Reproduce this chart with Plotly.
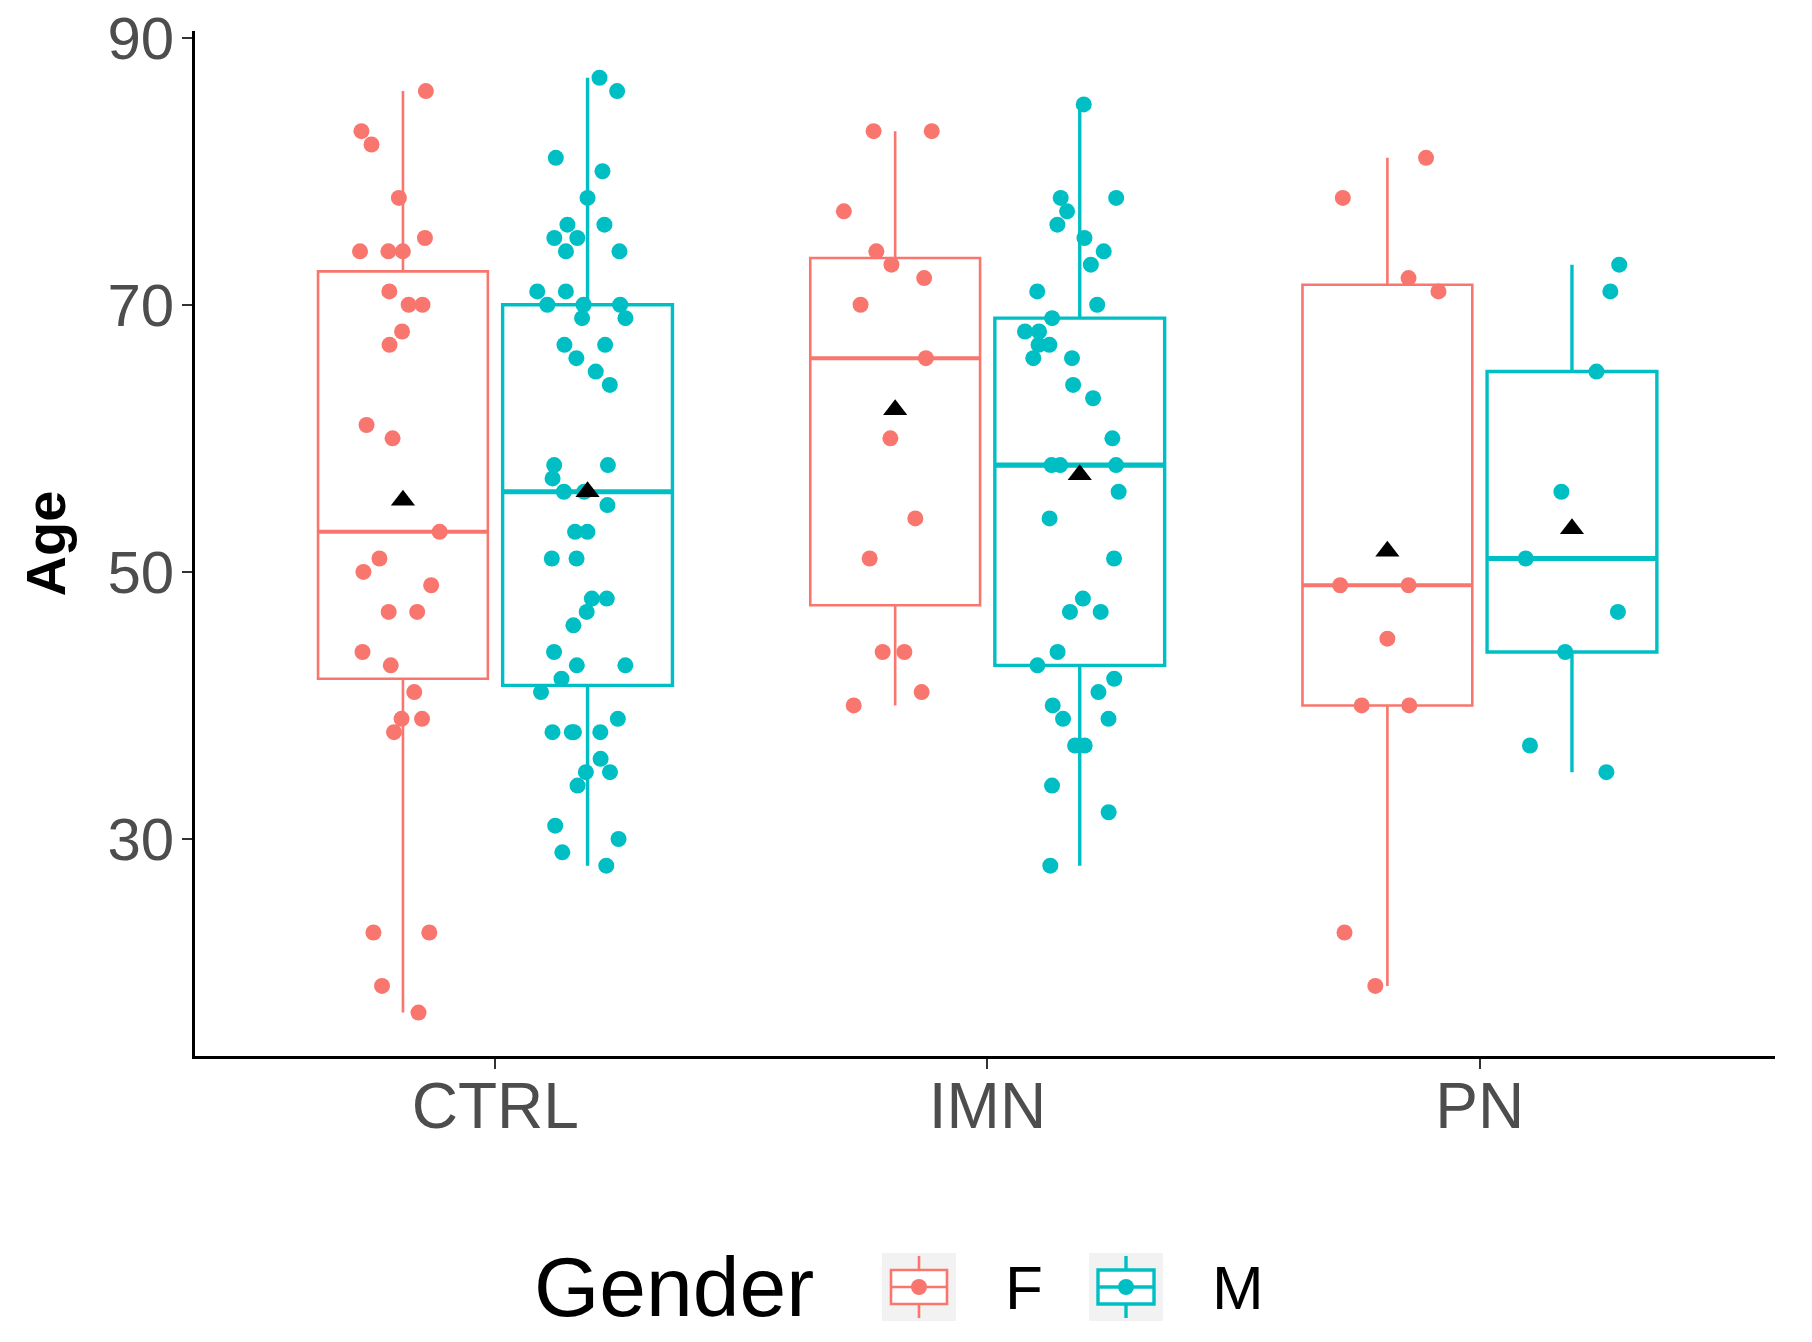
import numpy as np
import plotly.graph_objects as go

# ---- data (ages) ----
groups = ["CTRL", "IMN", "PN"]
genders = ["F", "M"]

ctrl_f = [86, 83, 82, 78, 75, 74, 74, 74, 71, 70, 70, 68, 67, 61, 60, 53, 51, 50,
          49, 47, 47, 44, 43, 41, 39, 39, 38, 23, 23, 19, 17]
ctrl_m = [87, 86, 81, 80, 78, 76, 76, 75, 75, 74, 74, 71, 71, 70, 70, 70, 69, 69,
          67, 67, 66, 65, 64, 58, 58, 57, 56, 56, 55, 53, 53, 51, 51, 48, 48, 47,
          46, 44, 43, 43, 42, 41, 39, 38, 38, 38, 38, 36, 35, 35, 34, 31, 30, 29, 28]
imn_f = [83, 83, 77, 74, 73, 72, 70, 66, 60, 54, 51, 44, 44, 41, 40]
imn_m = [85, 78, 78, 77, 76, 75, 74, 73, 71, 70, 69, 68, 68, 67, 67, 66, 66, 64,
         63, 60, 58, 58, 58, 56, 54, 51, 48, 47, 47, 44, 43, 42, 41, 40, 39, 39,
         37, 37, 34, 32, 28]
pn_f = [81, 78, 72, 71, 49, 49, 45, 40, 40, 23, 19]
pn_m = [73, 71, 65, 56, 51, 47, 44, 37, 35]

age = {
    ("CTRL", "F"): ctrl_f, ("CTRL", "M"): ctrl_m,
    ("IMN", "F"): imn_f, ("IMN", "M"): imn_m,
    ("PN", "F"): pn_f, ("PN", "M"): pn_m,
}

colors = {"F": "#F8766D", "M": "#00BFC4"}
box_line_w = {"F": 2.6, "M": 3.4}
median_w = {"F": 4.0, "M": 5.2}
FONT = "Liberation Sans, Arial, sans-serif"

# figure geometry (px); page body margin is removed by a post-script
FIG_W, FIG_H = 1812, 1342
M_L, M_R, M_T, M_B = 195, 37, 31, 286
PW = FIG_W - M_L - M_R
PH = FIG_H - M_T - M_B


def stats(values):
    a = np.asarray(values, dtype=float)
    q1, med, q3 = np.percentile(a, [25, 50, 75])
    iqr = q3 - q1
    lo = a[a >= q1 - 1.5 * iqr].min()
    hi = a[a <= q3 + 1.5 * iqr].max()
    return q1, med, q3, lo, hi, a.mean()


fig = go.Figure()

for g in genders:
    st = [stats(age[(grp, g)]) for grp in groups]
    fig.add_trace(go.Box(
        x=groups,
        q1=[s[0] for s in st], median=[s[1] for s in st], q3=[s[2] for s in st],
        lowerfence=[s[3] for s in st], upperfence=[s[4] for s in st],
        name=g, legendgroup=g, offsetgroup=g, alignmentgroup="a",
        line=dict(color=colors[g], width=box_line_w[g]),
        fillcolor="rgba(255,255,255,0)", whiskerwidth=0, boxpoints=False,
        showlegend=False,
    ))
    # thicker median bar (ggplot "fatten")
    meds = [s[1] for s in st]
    fig.add_trace(go.Box(
        x=groups, q1=meds, median=meds, q3=meds, lowerfence=meds, upperfence=meds,
        name=g, legendgroup=g, offsetgroup=g, alignmentgroup="a",
        line=dict(color=colors[g], width=median_w[g]),
        fillcolor="rgba(255,255,255,0)", whiskerwidth=0, boxpoints=False,
        showlegend=False, hoverinfo="skip",
    ))

for g in genders:
    xs, ys = [], []
    for grp in groups:
        xs += [grp] * len(age[(grp, g)])
        ys += age[(grp, g)]
    fig.add_trace(go.Box(
        x=xs, y=ys, name=g, legendgroup=g, offsetgroup=g, alignmentgroup="a",
        boxpoints="all", jitter=0.65, pointpos=0, whiskerwidth=0,
        line=dict(color="rgba(0,0,0,0)", width=0),
        fillcolor="rgba(0,0,0,0)",
        marker=dict(color=colors[g], size=16, line=dict(width=0)),
        showlegend=False,
    ))

for g in genders:
    means = [float(np.mean(age[(grp, g)])) for grp in groups]
    fig.add_trace(go.Scatter(
        x=groups, y=means, mode="markers", offsetgroup=g, alignmentgroup="a",
        marker=dict(symbol="triangle-up", size=21, color="black"),
        showlegend=False, legendgroup=g, name=g,
    ))


# ---- ggplot-style legend drawn at the bottom (figure px -> paper) ----
def pxx(px):
    return (px - M_L) / PW


def pxy(py):
    return (M_T + PH - py) / PH


shapes, annotations = [], []
LEG_CY = 1287
annotations.append(dict(
    text="Gender", x=pxx(532), y=pxy(LEG_CY), xref="paper", yref="paper",
    xanchor="left", yanchor="middle", showarrow=False,
    font=dict(size=84, color="black", family=FONT),
))
key_x0 = {"F": 882, "M": 1089}
label_x = {"F": 1003, "M": 1210}
KW, KH = 74, 68
for g in genders:
    x0 = key_x0[g]
    cx = x0 + KW / 2
    c = colors[g]
    lw = box_line_w[g]
    shapes.append(dict(type="rect", xref="paper", yref="paper",
                       x0=pxx(x0), x1=pxx(x0 + KW), y0=pxy(LEG_CY - KH / 2), y1=pxy(LEG_CY + KH / 2),
                       fillcolor="#F2F2F2", line=dict(width=0), layer="above"))
    shapes.append(dict(type="rect", xref="paper", yref="paper",
                       x0=pxx(x0 + 9), x1=pxx(x0 + KW - 9), y0=pxy(LEG_CY - 17), y1=pxy(LEG_CY + 17),
                       fillcolor="white", line=dict(color=c, width=lw), layer="above"))
    shapes.append(dict(type="line", xref="paper", yref="paper",
                       x0=pxx(x0 + 9), x1=pxx(x0 + KW - 9), y0=pxy(LEG_CY), y1=pxy(LEG_CY),
                       line=dict(color=c, width=lw), layer="above"))
    for ya, yb in ((LEG_CY - 31, LEG_CY - 17), (LEG_CY + 17, LEG_CY + 31)):
        shapes.append(dict(type="line", xref="paper", yref="paper",
                           x0=pxx(cx), x1=pxx(cx), y0=pxy(ya), y1=pxy(yb),
                           line=dict(color=c, width=lw), layer="above"))
    shapes.append(dict(type="circle", xref="paper", yref="paper",
                       x0=pxx(cx - 8), x1=pxx(cx + 8), y0=pxy(LEG_CY - 8), y1=pxy(LEG_CY + 8),
                       fillcolor=c, line=dict(width=0), layer="above"))
    annotations.append(dict(
        text=g, x=pxx(label_x[g]), y=pxy(LEG_CY), xref="paper", yref="paper",
        xanchor="left", yanchor="middle", showarrow=False,
        font=dict(size=62, color="black", family=FONT),
    ))

fig.update_layout(
    width=FIG_W, height=FIG_H,
    margin=dict(l=M_L, r=M_R, t=M_T, b=M_B, autoexpand=False),
    paper_bgcolor="white", plot_bgcolor="white",
    boxmode="group", boxgap=0.25, boxgroupgap=0.08,
    scattermode="group", scattergap=0.25,
    font=dict(family=FONT, color="black"),
    showlegend=False,
    shapes=shapes, annotations=annotations,
    xaxis=dict(
        type="category", categoryorder="array", categoryarray=groups,
        range=[-0.61, 2.6],
        showline=True, linecolor="black", linewidth=2.5,
        ticks="outside", ticklen=10, tickwidth=2, tickcolor="#333333",
        tickfont=dict(size=64, color="#4D4D4D", family=FONT),
        ticklabelstandoff=-18, ticklabeloverflow="allow",
        showgrid=False, zeroline=False,
    ),
    yaxis=dict(
        range=[13.75, 90.5],
        tickvals=[30, 50, 70, 90],
        showline=True, linecolor="black", linewidth=2.5,
        ticks="outside", ticklen=10, tickwidth=2, tickcolor="#333333",
        tickfont=dict(size=60, color="#4D4D4D", family=FONT),
        ticklabelstandoff=-4, ticklabeloverflow="allow",
        title=dict(text="<b>Age</b>", font=dict(size=56, color="black", family=FONT), standoff=24),
        showgrid=False, zeroline=False,
    ),
)

fig.write_html(
    "out.html",
    config={"displayModeBar": False},
    post_script="document.body.style.margin='0';document.body.style.overflow='hidden';",
)
